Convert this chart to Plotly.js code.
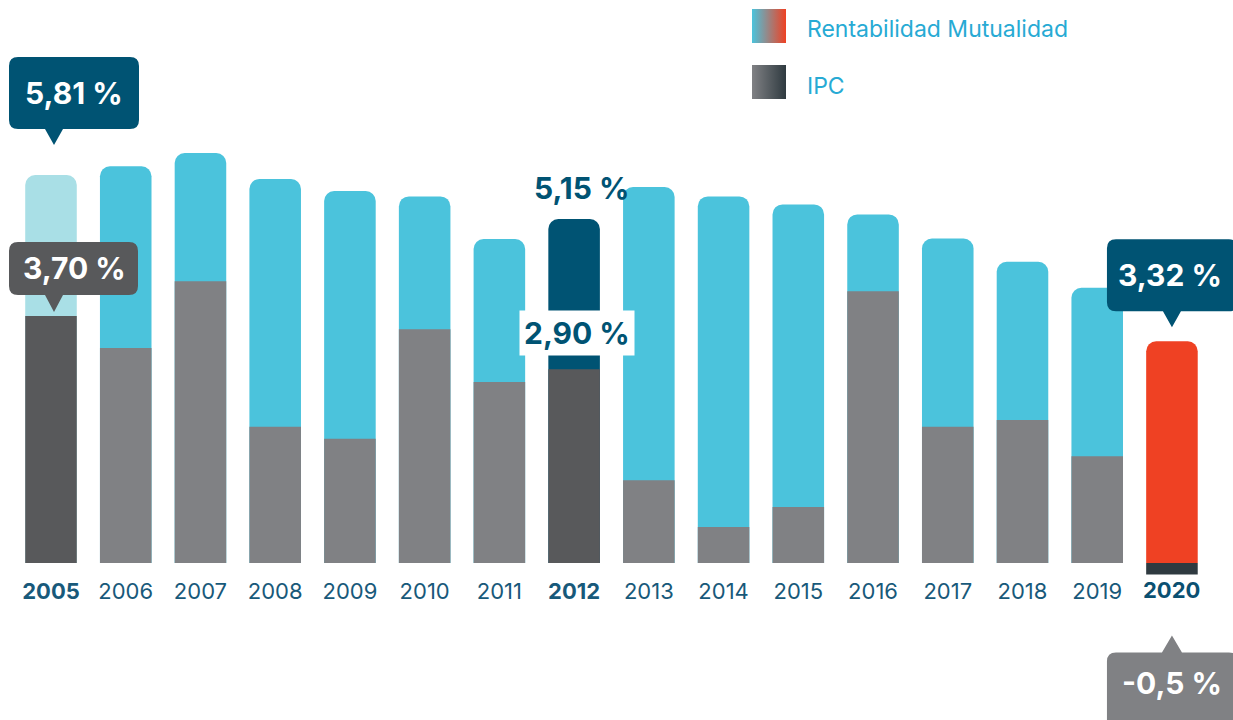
<!DOCTYPE html>
<html>
<head>
<meta charset="utf-8">
<script src="https://cdn.plot.ly/plotly-3.0.1.min.js"></script>
<style>
  html, body { margin: 0; padding: 0; background: #fff; }
  #chart { width: 1233px; height: 720px; }
</style>
</head>
<body>
<div id="chart"></div>
<script>
'use strict';

var years = [2005, 2006, 2007, 2008, 2009, 2010, 2011, 2012, 2013, 2014, 2015, 2016, 2017, 2018, 2019, 2020];
var rentabilidad = [5.81, 5.94, 6.14, 5.75, 5.57, 5.49, 4.85, 5.15, 5.63, 5.49, 5.37, 5.22, 4.86, 4.51, 4.12, 3.32];
var ipc = [3.70, 3.22, 4.22, 2.04, 1.86, 3.50, 2.71, 2.90, 1.24, 0.54, 0.84, 4.07, 2.04, 2.14, 1.60, -0.5];
var seriesNames = ['Rentabilidad Mutualidad', 'IPC'];
var boldYears = [2005, 2012, 2020];

var FONT = 'Inter, "Noto Sans", sans-serif';
var TEAL = '#005373';

function pct(v, dec) {
  return v.toFixed(dec).replace('.', ',') + ' %';
}
function idx(y) { return years.indexOf(y); }

var rentColors = years.map(function (y) {
  if (y === 2005) return '#a9dfe6';
  if (y === 2012) return TEAL;
  if (y === 2020) return '#ef4123';
  return '#4bc3dc';
});
var ipcColors = years.map(function (y) {
  if (y === 2005 || y === 2012) return '#58595b';
  if (y === 2020) return '#2f3a40';
  return '#808184';
});

var tickText = years.map(function (y) {
  if (y === 2020) return '';          // drawn as a white-backed annotation below
  return boldYears.indexOf(y) >= 0 ? '<b>' + y + '</b>' : String(y);
});

var trace1 = {
  type: 'bar',
  name: seriesNames[0],
  x: years,
  y: rentabilidad,
  width: 0.69,
  marker: { color: rentColors, cornerradius: 10, line: { width: 0 } },
  hoverinfo: 'skip'
};
var trace2 = {
  type: 'bar',
  name: seriesNames[1],
  x: years,
  y: ipc,
  width: 0.69,
  marker: { color: ipcColors, cornerradius: 10, line: { width: 0 } },
  hoverinfo: 'skip'
};

// speech-bubble path in pixels around an anchor point (y up)
function bubble(x0, x1, yb, yt, r, px, py, pw) {
  var p = 'M' + (x0 + r) + ',' + yb;
  if (py < yb) p += ' L' + (px - pw / 2) + ',' + yb + ' L' + px + ',' + py + ' L' + (px + pw / 2) + ',' + yb;
  p += ' L' + (x1 - r) + ',' + yb + ' Q' + x1 + ',' + yb + ' ' + x1 + ',' + (yb + r);
  p += ' L' + x1 + ',' + (yt - r) + ' Q' + x1 + ',' + yt + ' ' + (x1 - r) + ',' + yt;
  if (py > yt) p += ' L' + (px + pw / 2) + ',' + yt + ' L' + px + ',' + py + ' L' + (px - pw / 2) + ',' + yt;
  p += ' L' + (x0 + r) + ',' + yt + ' Q' + x0 + ',' + yt + ' ' + x0 + ',' + (yt - r);
  p += ' L' + x0 + ',' + (yb + r) + ' Q' + x0 + ',' + yb + ' ' + (x0 + r) + ',' + yb + ' Z';
  return p;
}
function callout(x, y, path, color) {
  return {
    type: 'path', layer: 'above',
    xref: 'x', yref: 'y', xsizemode: 'pixel', ysizemode: 'pixel',
    xanchor: x, yanchor: y, path: path,
    fillcolor: color, line: { width: 0 }
  };
}
function label(x, y, text, dx, dy, color, extra) {
  var a = {
    xref: 'x', yref: 'y', x: x, y: y, xshift: dx, yshift: dy,
    text: '<b>' + text + '</b>', showarrow: false,
    xanchor: 'center', yanchor: 'middle',
    font: { family: FONT, size: 30, color: color }
  };
  for (var k in extra) a[k] = extra[k];
  return a;
}

var r05 = rentabilidad[idx(2005)], i05 = ipc[idx(2005)];
var r12 = rentabilidad[idx(2012)], i12 = ipc[idx(2012)];
var r20 = rentabilidad[idx(2020)], i20 = ipc[idx(2020)];

var shapes = [
  callout(2005, r05, bubble(-42, 88, 46, 118, 9, 3, 30, 18), TEAL),
  callout(2005, i05, bubble(-42, 87, 21, 74, 9, 3, 4, 18), '#58595b'),
  callout(2020, r20, bubble(-65, 66, 30, 102, 9, 0, 14, 18), TEAL),
  callout(2020, i20, bubble(-65, 66, -140, -56, 9, 0, -39, 20), '#808184')
];

function gradient(c1, c2) {
  var svg = "<svg xmlns='http://www.w3.org/2000/svg' width='34' height='34'>" +
    "<defs><linearGradient id='g'><stop offset='0' stop-color='" + c1 + "'/>" +
    "<stop offset='1' stop-color='" + c2 + "'/></linearGradient></defs>" +
    "<rect width='34' height='34' fill='url(#g)'/></svg>";
  return 'data:image/svg+xml;charset=utf-8,' + encodeURIComponent(svg);
}

var W = 1233, H = 720;
var images = [
  { source: gradient('#4bc3dc', '#ef4123'), xref: 'paper', yref: 'paper',
    x: 752 / W, y: 1 - 9 / H, sizex: 34 / W, sizey: 34 / H,
    xanchor: 'left', yanchor: 'top', sizing: 'stretch', layer: 'above' },
  { source: gradient('#808184', '#2f3a40'), xref: 'paper', yref: 'paper',
    x: 752 / W, y: 1 - 65 / H, sizex: 34 / W, sizey: 34 / H,
    xanchor: 'left', yanchor: 'top', sizing: 'stretch', layer: 'above' }
];

var annotations = [
  label(2005, r05, pct(r05, 2), 23, 82, '#fff'),
  label(2005, i05, pct(i05, 2), 23, 48, '#fff'),
  label(2012, r12, pct(r12, 2), 7, 31, TEAL),
  label(2012, i12, pct(i12, 2), 3, 36, TEAL, { bgcolor: '#fff', borderpad: 4 }),
  label(2020, r20, pct(r20, 2), -2, 66, '#fff'),
  label(2020, i20, pct(i20, 1), 0, -87, '#fff'),
  { xref: 'x', yref: 'y', x: 2020, y: 0, yshift: -27, text: '<b>2020</b>',
    showarrow: false, bgcolor: '#fff', borderpad: 2,
    font: { family: FONT, size: 22, color: '#0b5071' } },
  { xref: 'paper', yref: 'paper', x: 805 / W, y: 1 - 29 / H, text: seriesNames[0],
    showarrow: false, xanchor: 'left', yanchor: 'middle',
    font: { family: FONT, size: 23, color: '#27aad4' } },
  { xref: 'paper', yref: 'paper', x: 805 / W, y: 1 - 86 / H, text: seriesNames[1],
    showarrow: false, xanchor: 'left', yanchor: 'middle',
    font: { family: FONT, size: 23, color: '#27aad4' } }
];

var pxPerUnit = 66.78, base = 563, step = 74.73;

var layout = {
  width: W,
  height: H,
  margin: { l: 0, r: 0, t: 0, b: 0 },
  paper_bgcolor: '#fff',
  plot_bgcolor: '#fff',
  barmode: 'overlay',
  showlegend: false,
  font: { family: FONT },
  xaxis: {
    range: [2005 - 51 / step, 2005 + (W - 51) / step],
    tickvals: years,
    ticktext: tickText,
    tickfont: { family: FONT, size: 22, color: '#18597a' },
    ticks: '',
    ticklabelstandoff: 13,
    showgrid: false,
    zeroline: false,
    showline: false,
    anchor: 'free',
    position: (H - base) / H,
    fixedrange: true
  },
  yaxis: {
    range: [-(H - base) / pxPerUnit, base / pxPerUnit],
    visible: false,
    fixedrange: true
  },
  shapes: shapes,
  images: images,
  annotations: annotations
};

Plotly.newPlot('chart', [trace1, trace2], layout, { displayModeBar: false, staticPlot: true });
</script>
</body>
</html>
